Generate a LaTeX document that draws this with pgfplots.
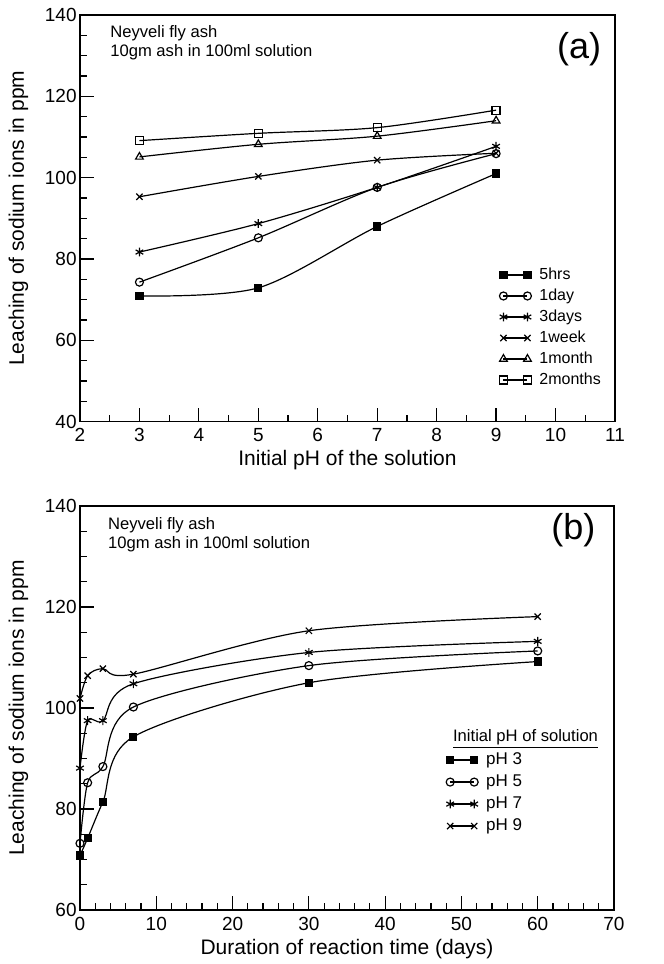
\documentclass[border=0pt]{standalone}
\usepackage{fontspec}
\setmainfont{Liberation Sans}
\usepackage{pgfplots}
\pgfplotsset{compat=1.18}
\begin{document}
\begin{tikzpicture}
\path[use as bounding box] (-40pt,-271.2pt) rectangle (292pt,210.8pt);
\pgfplotsset{
  panel/.style={
    scale only axis,
    axis line style={line width=0.75pt},
    xtick pos=bottom, ytick pos=left, tick align=inside,
    major tick length=7pt, minor tick length=3.5pt,
    every tick/.style={black, line width=0.6pt},
    /pgf/number format/assume math mode=true,
    tick label style={font=\fontsize{9.5}{11}\selectfont},
    yticklabel style={inner xsep=1.5pt},
    label style={font=\fontsize{10.5}{12}\selectfont},
    legend image code/.code={\draw[##1] plot coordinates {(0pt,0pt) (12pt,0pt)};},
    legend cell align=left,
  },
  ln/.style={black, line width=0.6pt, smooth},
}
% ---------------- Panel (a) ----------------
\begin{axis}[panel,
  at={(0pt,0pt)}, anchor=south west,
  width=267.5pt, height=203.3pt,
  xmin=2, xmax=11, ymin=40, ymax=140,
  xtick={2,3,...,11}, ytick={40,60,...,140},
  minor x tick num=1, minor y tick num=3,
  xlabel={Initial pH of the solution},
  ylabel={Leaching of sodium ions in ppm},
  xlabel style={at={(axis description cs:0.5,-0.108)}, anchor=base},
  ylabel style={at={(axis description cs:-0.1047,0.5)}, anchor=base},
  legend style={draw=none, fill=none, font=\fontsize{8}{9}\selectfont,
    at={(axis description cs:0.978,0.078)}, anchor=south east,
    inner sep=0pt, row sep=1pt, column sep=3pt,
    nodes={text height=6pt, text depth=1.5pt, inner sep=1pt}},
]
\addplot[ln, mark=square*, mark size=1.75pt, mark options={fill=black}] coordinates {(3,70.9) (5,72.9) (7,88.0) (9,101.0)};
\addlegendentry{5hrs}
\addplot[ln, mark=o, mark size=2pt, mark options={fill=white}] coordinates {(3,74.3) (5,85.2) (7,97.6) (9,105.9)};
\addlegendentry{1day}
\addplot[ln, mark=asterisk, mark size=2.2pt] coordinates {(3,81.7) (5,88.7) (7,97.6) (9,107.7)};
\addlegendentry{3days}
\addplot[ln, mark=x, mark size=2.2pt] coordinates {(3,95.3) (5,100.3) (7,104.3) (9,106.0)};
\addlegendentry{1week}
\addplot[ln, mark=triangle, mark size=2.2pt, mark options={fill=white}] coordinates {(3,105.1) (5,108.2) (7,110.2) (9,114.0)};
\addlegendentry{1month}
\addplot[ln, mark=square, mark size=2pt, mark options={fill=white}] coordinates {(3,109.1) (5,110.9) (7,112.3) (9,116.6)};
\addlegendentry{2months}
\node[anchor=base west, inner sep=0pt, font=\fontsize{8.3}{9.7}\selectfont] at (rel axis cs:0.056,0.945) {Neyveli fly ash};
\node[anchor=base west, inner sep=0pt, font=\fontsize{8.3}{9.7}\selectfont] at (rel axis cs:0.056,0.897) {10gm ash in 100ml solution};
\node[inner sep=0pt, font=\fontsize{18}{20}\selectfont] at (rel axis cs:0.933,0.916) {(a)};
\end{axis}
% ---------------- Panel (b) ----------------
\begin{axis}[panel,
  at={(0pt,-244.2pt)}, anchor=south west,
  width=267pt, height=202pt,
  xmin=0, xmax=70, ymin=60, ymax=140,
  xtick={0,10,...,70}, ytick={60,80,...,140},
  minor x tick num=4, minor y tick num=3,
  xlabel={Duration of reaction time (days)},
  ylabel={Leaching of sodium ions in ppm},
  xlabel style={at={(axis description cs:0.5,-0.111)}, anchor=base},
  ylabel style={at={(axis description cs:-0.1049,0.5)}, anchor=base},
  legend style={draw=none, fill=none, font=\fontsize{8.5}{9.5}\selectfont,
    at={(axis description cs:0.685,0.182)}, anchor=south west,
    inner sep=0pt, row sep=1pt, column sep=3pt,
    nodes={text height=6.3pt, text depth=1.7pt, inner sep=1pt}},
]
\addplot[ln, mark=square*, mark size=1.75pt, mark options={fill=black}] coordinates {(0,70.8) (1,74.2) (3,81.4) (7,94.3) (30,105.0) (60,109.2)};
\addlegendentry{pH 3}
\addplot[ln, mark=o, mark size=2pt, mark options={fill=white}] coordinates {(0,73.2) (1,85.2) (3,88.4) (7,100.2) (30,108.4) (60,111.3)};
\addlegendentry{pH 5}
\addplot[ln, mark=asterisk, mark size=2.2pt] coordinates {(0,88.1) (1,97.5) (3,97.5) (7,104.8) (30,111.0) (60,113.2)};
\addlegendentry{pH 7}
\addplot[ln, mark=x, mark size=2.2pt] coordinates {(0,101.9) (1,106.4) (3,107.8) (7,106.7) (30,115.3) (60,118.1)};
\addlegendentry{pH 9}
\node[anchor=base west, inner sep=0pt, font=\fontsize{8.3}{9.7}\selectfont] at (rel axis cs:0.052,0.942) {Neyveli fly ash};
\node[anchor=base west, inner sep=0pt, font=\fontsize{8.3}{9.7}\selectfont] at (rel axis cs:0.052,0.895) {10gm ash in 100ml solution};
\node[inner sep=0pt, font=\fontsize{18}{20}\selectfont] at (rel axis cs:0.924,0.939) {(b)};
\node[anchor=base west, inner sep=0pt, font=\fontsize{8.3}{9.7}\selectfont] at (rel axis cs:0.698,0.418) {\underline{Initial pH of solution}};
\end{axis}
\end{tikzpicture}
\end{document}
